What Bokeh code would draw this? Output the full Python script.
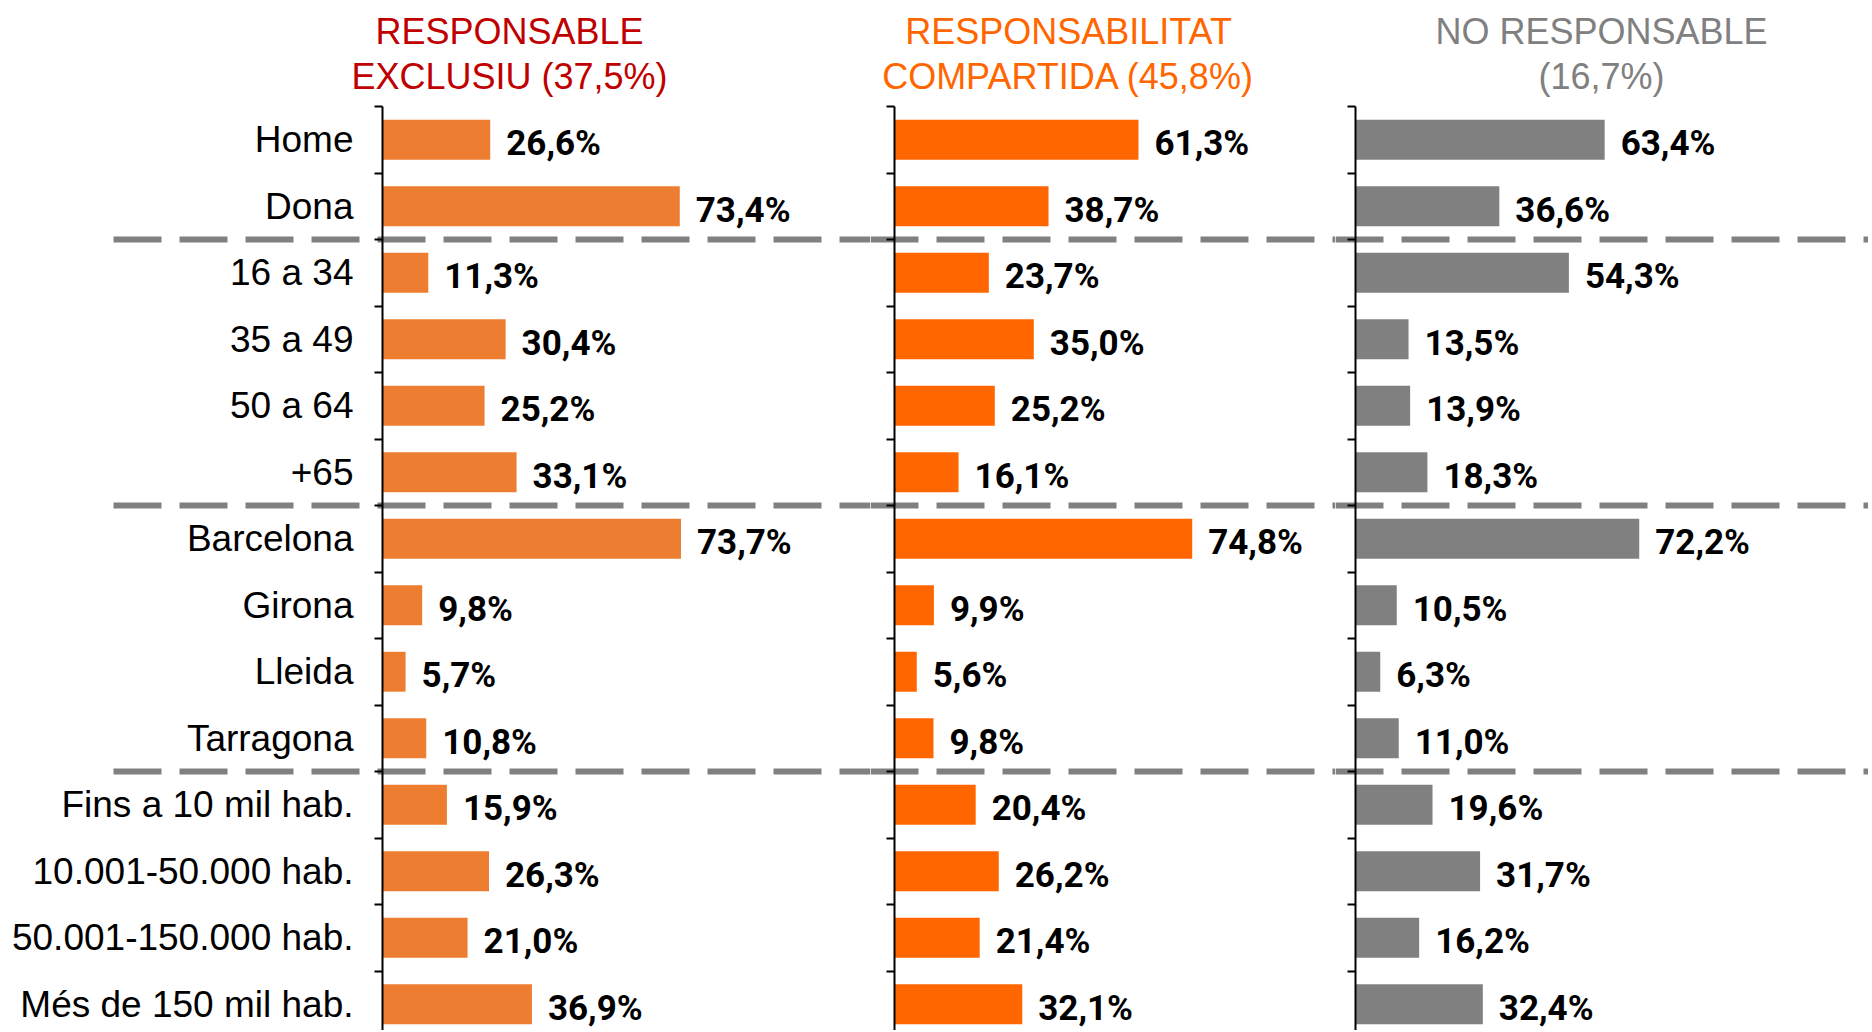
import numpy as np
from bokeh.plotting import figure
from bokeh.layouts import row
from bokeh.models import ColumnDataSource, FixedTicker, LinearAxis, Range1d
from bokeh.core.properties import value
from bokeh.embed import file_html
from bokeh.resources import INLINE

# ---------------- data ----------------
categories = ["Home", "Dona", "16 a 34", "35 a 49", "50 a 64", "+65",
              "Barcelona", "Girona", "Lleida", "Tarragona",
              "Fins a 10 mil hab.", "10.001-50.000 hab.",
              "50.001-150.000 hab.", "Més de 150 mil hab."]
group_sizes = [2, 4, 4, 4]

responsable_exclusiu = [26.6, 73.4, 11.3, 30.4, 25.2, 33.1, 73.7, 9.8, 5.7, 10.8, 15.9, 26.3, 21.0, 36.9]
responsabilitat_compartida = [61.3, 38.7, 23.7, 35.0, 25.2, 16.1, 74.8, 9.9, 5.6, 9.8, 20.4, 26.2, 21.4, 32.1]
no_responsable = [63.4, 36.6, 54.3, 13.5, 13.9, 18.3, 72.2, 10.5, 6.3, 11.0, 19.6, 31.7, 16.2, 32.4]

series = [responsable_exclusiu, responsabilitat_compartida, no_responsable]
titles = [("RESPONSABLE", "EXCLUSIU (37,5%)"),
          ("RESPONSABILITAT", "COMPARTIDA (45,8%)"),
          ("NO RESPONSABLE", "(16,7%)")]

# ---------------- style / layout (pixels) ----------------
bar_colors = ["#ED7D31", "#FF6600", "#808080"]
title_colors = ["#C00000", "#FF6600", "#808080"]
LABEL_FONT = "'Liberation Sans', Arial, sans-serif"
VALUE_FONT = "Roboto, 'Liberation Sans', sans-serif"

H = 1030
AXIS_TOP_PX = 106          # pixel row of the top of the axes
ROW_PX = 66.5              # pixel height of one category band
DASH_START_PX = 113        # left end of the dashed separators
TITLE_LINES_PX = (30.5, 75.5)

n = len(categories)
ys = [n - 1 - i for i in range(n)]
boundaries = [i - 0.5 for i in range(n + 1)]
seps = [n - 0.5 - s for s in np.cumsum(group_sizes)[:-1]]
y_axis_top = n - 0.5
y_top = y_axis_top + AXIS_TOP_PX / ROW_PX
y_bottom = y_axis_top - (H - AXIS_TOP_PX) / ROW_PX


def py_to_y(py):
    return y_axis_top + (AXIS_TOP_PX - py) / ROW_PX


panels = [
    dict(left=0, right=870, axis=382, scale=4.05, title_center=509, labels=True),
    dict(left=870, right=1335, axis=894, scale=3.98, title_center=1068, labels=False),
    dict(left=1335, right=1868, axis=1355, scale=3.93, title_center=1601, labels=False),
]

figs = []
for k, pan in enumerate(panels):
    def px_to_x(px, pan=pan):
        return (px - pan["axis"]) / pan["scale"]

    w = pan["right"] - pan["left"]
    x0 = px_to_x(pan["left"])
    x1 = px_to_x(pan["right"])
    p = figure(width=w, height=H, x_range=Range1d(x0, x1), y_range=Range1d(y_bottom, y_top),
               output_backend="svg", toolbar_location=None,
               x_axis_location=None, y_axis_location=None, title_location=None,
               min_border_left=0, min_border_right=0, min_border_top=0, min_border_bottom=0,
               outline_line_color=None, background_fill_color="white",
               border_fill_color="white")
    p.grid.visible = False

    vals = series[k]
    src = ColumnDataSource(dict(y=ys, v=vals,
                                lab=[f"{v:.1f}".replace(".", ",") + "%" for v in vals]))

    # dashed group separators
    dx0 = px_to_x(max(DASH_START_PX, pan["left"]))
    p.segment(x0=[dx0] * len(seps), x1=[x1] * len(seps), y0=seps, y1=seps,
              line_color="#808080", line_width=6, line_dash="48 18")

    p.hbar(y="y", left=0, right="v", height=0.6, source=src,
           fill_color=bar_colors[k], line_color=None)
    p.text(x="v", y="y", text="lab", source=src, x_offset=16, y_offset=4,
           text_align="left", text_baseline="middle",
           text_font=value(VALUE_FONT), text_font_style="bold",
           text_font_size="35px", text_color="black")

    ax = LinearAxis(fixed_location=0, bounds=(y_bottom, y_axis_top),
                    ticker=FixedTicker(ticks=ys, minor_ticks=boundaries),
                    axis_line_color="black", axis_line_width=2,
                    major_tick_in=0, major_tick_out=0,
                    minor_tick_in=0, minor_tick_out=8,
                    minor_tick_line_color="black", minor_tick_line_width=2,
                    major_label_standoff=21,
                    major_label_text_font=LABEL_FONT,
                    major_label_text_font_size="37px" if pan["labels"] else "0px",
                    major_label_text_color="black")
    ax.major_label_overrides = {y: (c if pan["labels"] else "") for y, c in zip(ys, categories)}
    p.add_layout(ax, "left")

    tsrc = ColumnDataSource(dict(x=[px_to_x(pan["title_center"])] * 2,
                                 y=[py_to_y(b) for b in TITLE_LINES_PX],
                                 t=list(titles[k])))
    p.text(x="x", y="y", text="t", source=tsrc, text_align="center",
           text_baseline="alphabetic", text_font=value(LABEL_FONT),
           text_font_size="36px", text_color=title_colors[k])
    figs.append(p)

layout = row(*figs, spacing=0)
open("out.html", "w").write(file_html(layout, INLINE))
